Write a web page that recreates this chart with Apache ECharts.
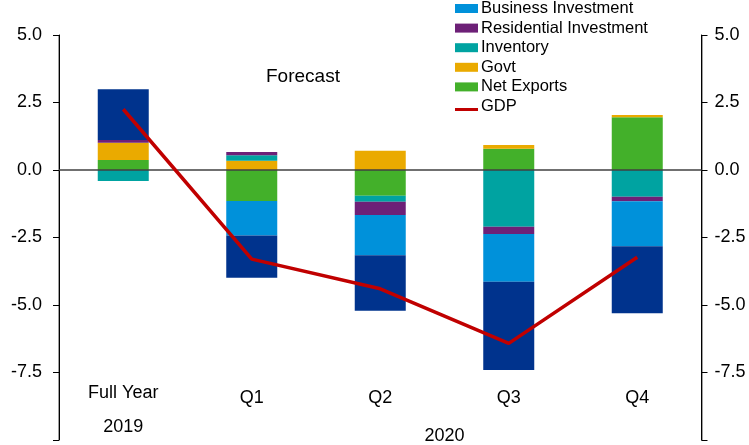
<!DOCTYPE html>
<html>
<head>
<meta charset="utf-8">
<script src="https://cdn.jsdelivr.net/npm/echarts@6/dist/echarts.min.js"></script>
<style>html,body{margin:0;padding:0;background:#fff;}#c{width:749px;height:445px;}</style>
</head>
<body>
<div id="c"></div>
<script>
const categories = ['Full Year', 'Q1', 'Q2', 'Q3', 'Q4'];
const periodLabels = ['2019', '2020'];
const netExports  = [0.37, -1.15, -0.95, 0.79, 1.95];
const govt        = [0.64, 0.34, 0.71, 0.14, 0.09];
const inventory   = [-0.41, 0.21, -0.23, -2.10, -0.99];
const residential = [0.10, 0.12, -0.49, -0.27, -0.17];
const businessInv = [0.00, -1.28, -1.49, -1.77, -1.66];
const consumption = [1.88, -1.56, -2.05, -3.27, -2.49];
const gdp         = [2.25, -3.30, -4.40, -6.42, -3.23];
const forecastLabel = 'Forecast';

const FONT = '"Liberation Sans", Arial, sans-serif';
const chart = echarts.init(document.getElementById('c'));

function bar(name, data, color) {
  return {
    name, type: 'bar', stack: 'total', data, barWidth: 51,
    itemStyle: { color },
    emphasis: { disabled: true }
  };
}

const yAxisBase = {
  type: 'value', min: -10, max: 5, interval: 2.5,
  splitLine: { show: false },
  axisLine: { show: true, lineStyle: { color: '#000', width: 1 } },
  axisTick: { show: true, length: 6, lineStyle: { color: '#000' } },
  axisLabel: {
    color: '#000', fontFamily: FONT, fontSize: 18,
    formatter: v => (v <= -10 ? '' : v.toFixed(1))
  }
};

const series = [
  bar('Net Exports', netExports, '#43B02A'),
  bar('Govt', govt, '#EAAA00'),
  bar('Inventory', inventory, '#00A3A1'),
  bar('Residential Investment', residential, '#6D2077'),
  bar('Business Investment', businessInv, '#0091DA'),
  Object.assign(bar('Consumption', consumption, '#00338D'), {
    markLine: {
      silent: true, symbol: 'none', label: { show: false },
      lineStyle: { color: '#404040', width: 1.5, type: 'solid' },
      data: [{ yAxis: 0 }]
    }
  }),
  {
    name: 'GDP', type: 'line', data: gdp, symbol: 'none', z: 10,
    lineStyle: { color: '#C00000', width: 3.5 }, itemStyle: { color: '#C00000' }
  }
];

chart.setOption({
  animation: false,
  grid: { left: 59, right: 47.5, top: 35, bottom: 5 },
  legend: {
    orient: 'vertical', left: 450, top: -6,
    itemWidth: 23, itemHeight: 9, itemGap: 0.6,
    textStyle: { fontFamily: FONT, fontSize: 16.5, color: '#000', lineHeight: 19, padding: [0, 0, 0, -2] },
    data: [
      { name: 'Business Investment', icon: 'rect' },
      { name: 'Residential Investment', icon: 'rect' },
      { name: 'Inventory', icon: 'rect' },
      { name: 'Govt', icon: 'rect' },
      { name: 'Net Exports', icon: 'rect' },
      { name: 'GDP', icon: 'path://M0,0H23V0.01H0Z M0,6H23V9H0Z' }
    ],
    selectedMode: false
  },
  xAxis: {
    type: 'category', data: categories,
    axisLine: { show: false, onZero: false },
    axisTick: { show: false },
    splitLine: { show: true, interval: (i) => i === 1, lineStyle: { color: '#7f7f7f', width: 1.5 } },
    axisLabel: {
      inside: true, margin: 0, interval: 0, color: '#000', fontFamily: FONT, fontSize: 18,
      formatter: (v, i) => i === 0 ? '{a|' + v + '}\n{b|' + periodLabels[0] + '}' : '{q|' + v + '}\n{s| }',
      rich: {
        a: { lineHeight: 42, fontFamily: FONT, fontSize: 18, color: '#000' },
        b: { lineHeight: 26, fontFamily: FONT, fontSize: 18, color: '#000' },
        q: { lineHeight: 32, fontFamily: FONT, fontSize: 18, color: '#000' },
        s: { lineHeight: 26, fontFamily: FONT, fontSize: 18 }
      }
    }
  },
  yAxis: [
    Object.assign({}, yAxisBase, { position: 'left', axisLabel: Object.assign({}, yAxisBase.axisLabel, { margin: 17 }) }),
    Object.assign({}, yAxisBase, { position: 'right', axisLabel: Object.assign({}, yAxisBase.axisLabel, { margin: 13 }) })
  ],
  series
});

const xQ1 = chart.convertToPixel({ xAxisIndex: 0 }, categories[1]);
const xQ4 = chart.convertToPixel({ xAxisIndex: 0 }, categories[4]);
chart.setOption({
  graphic: [
    {
      type: 'text', left: 266, top: 67,
      style: { text: forecastLabel, font: '19px ' + FONT, fill: '#000' }
    },
    {
      type: 'text', x: (xQ1 + xQ4) / 2, y: 436,
      style: { text: periodLabels[1], font: '18px ' + FONT, fill: '#000', textAlign: 'center', textVerticalAlign: 'middle' }
    }
  ]
});
</script>
</body>
</html>
